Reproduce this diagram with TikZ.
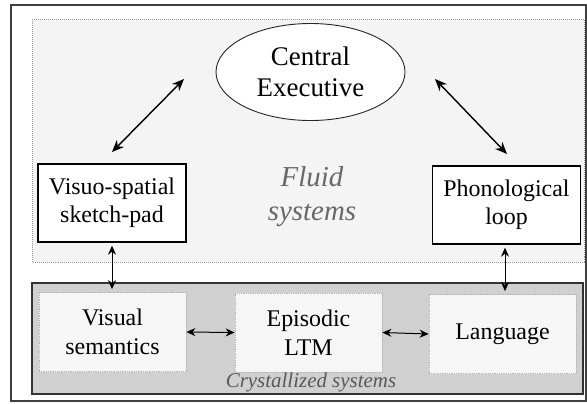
\documentclass[tikz,border=0pt]{standalone}
\usepackage{fontspec}
\setmainfont{Liberation Serif}
\usetikzlibrary{shapes.geometric,arrows.meta,calc}
\definecolor{fluidfill}{HTML}{F4F4F4}
\definecolor{crystfill}{HTML}{D0D0D0}
\definecolor{innerfill}{HTML}{F6F6F6}
\definecolor{labelgray}{HTML}{686868}
\tikzset{
  frame/.style={draw=black!75, line width=1.3bp},
  fluidzone/.style={draw=black!40, densely dotted, line width=1bp, fill=fluidfill},
  crystzone/.style={draw=black!80, line width=2bp, fill=crystfill},
  slavebox/.style={draw=black, line width=1.3bp, fill=white, align=center,
    minimum width=148bp, minimum height=78bp, inner sep=0pt,
    font=\fontsize{24}{28}\selectfont},
  storebox/.style={draw=black!30, densely dotted, line width=0.8bp, fill=innerfill,
    align=center, minimum width=147bp, minimum height=79bp, inner sep=0pt,
    font=\fontsize{24}{29}\selectfont},
  execnode/.style={ellipse, draw=black!85, line width=0.9bp, fill=white, align=center,
    minimum width=189bp, minimum height=97bp, inner sep=0pt,
    font=\fontsize{27}{31}\selectfont},
  bigarrow/.style={{Stealth[length=12bp,width=10bp]}-{Stealth[length=12bp,width=10bp]}, line width=1.4bp},
  smallarrow/.style={{Stealth[length=9bp,width=8bp]}-{Stealth[length=9bp,width=8bp]}, line width=1bp},
}
\begin{document}
\begin{tikzpicture}[x=1bp, y=-1bp]
  \useasboundingbox (0,0) rectangle (587,403);
  % outer frame and the two system zones
  \draw[frame] (11,5) rectangle (586,401);
  \draw[fluidzone] (32,19) rectangle (584,262);
  \draw[crystzone] (32,283) rectangle (583,394);

  % fluid components
  \node[execnode] (ce) at (310.5,72) {Central\\Executive};
  \node[slavebox] (vssp) at (112,203) {Visuo-spatial\\sketch-pad};
  \node[slavebox] (phon) at (506.5,205) {Phonological\\loop};
  \node[font=\fontsize{29}{34}\selectfont\itshape, text=labelgray, align=center]
    (fluid) at (312,197) {Fluid\\systems};

  % crystallized components
  \node[storebox] (vsem) at (112.5,332) {Visual\\semantics};
  \node[storebox] (eltm) at (308.5,332.5) {Episodic\\LTM};
  \node[storebox] (lang) at (502.5,334) {Language};
  \node[font=\fontsize{21}{24}\selectfont\itshape, text=black!65]
    (cryst) at (311,382) {Crystallized systems};

  % executive links
  \coordinate (vsspA) at (112,152);
  \coordinate (ceA) at (184,79);
  \coordinate (ceB) at (435,79);
  \coordinate (phonA) at (507,154);
  \draw[bigarrow] (vsspA) -- (ceA);
  \draw[bigarrow] (ceB) -- (phonA);

  % links to long-term stores
  \draw[smallarrow, shorten <=3bp, shorten >=3bp] (vssp.south) -- (vssp.south |- vsem.north);
  \draw[smallarrow, shorten <=3bp, shorten >=3bp] ([xshift=-1.5bp]phon.south) -- ([xshift=-1.5bp]phon.south |- lang.north);
  \draw[smallarrow] (vsem.east) -- (eltm.west);
  \draw[smallarrow] (eltm.east) -- (lang.west);
\end{tikzpicture}
\end{document}
